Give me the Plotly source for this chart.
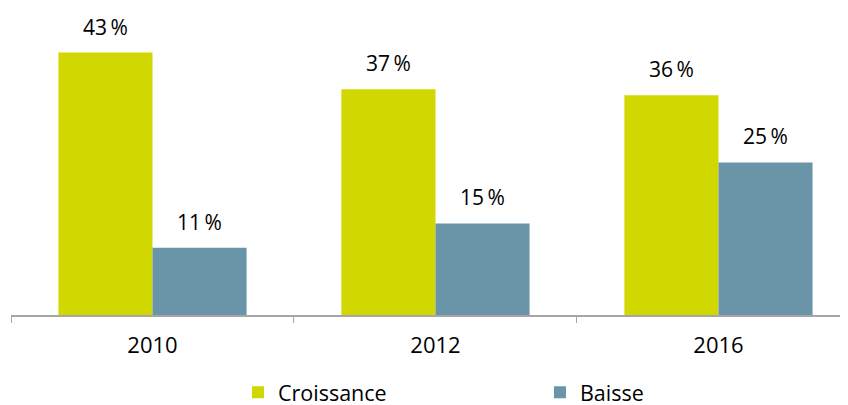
import plotly.graph_objects as go

# data
years = ["2010", "2012", "2016"]
croissance = [43, 37, 36]
baisse = [11, 15, 25]

series = [("Croissance", croissance, "#D1D700"), ("Baisse", baisse, "#6A95A9")]
BAR_PX = 94  # width of one bar in pixels, used to centre the value labels

fig = go.Figure()
for i, (name, vals, col) in enumerate(series):
    fig.add_trace(go.Bar(x=years, y=vals, name=name, marker_color=col,
                         marker_line_width=0))
    # value labels above each bar (category axis -> use the category index)
    shift = (i - 0.5) * BAR_PX
    for j, v in enumerate(vals):
        fig.add_annotation(x=j, y=v, text="{}\u2009%".format(v), showarrow=False,
                           xanchor="center", yanchor="bottom", xshift=shift,
                           yshift=10, font=dict(size=21, color="#000000"))

# page body has an 8px margin, figure starts at (8, 8)
fig.update_layout(
    width=848, height=405,
    margin=dict(l=3, r=0, t=0, b=98),
    barmode="group", bargap=0.335, bargroupgap=0,
    plot_bgcolor="white", paper_bgcolor="white",
    font=dict(family="Open Sans", size=22, color="#000000"),
    legend=dict(orientation="h", x=0.626, xanchor="center",
                yref="container", y=0.102, yanchor="top",
                font=dict(size=21.5), entrywidth=257, entrywidthmode="pixels",
                itemwidth=30),
)
fig.update_xaxes(type="category", range=[-0.5, 2.486], showline=True,
                 linecolor="#A6A6A6", linewidth=1.5, ticks="outside",
                 tickson="boundaries", ticklen=6, tickcolor="#A6A6A6",
                 ticklabelstandoff=10, showgrid=False)
fig.update_yaxes(range=[0, 50.3], showticklabels=False, showline=False,
                 zeroline=False, showgrid=False)

fig.write_html("out.html")
